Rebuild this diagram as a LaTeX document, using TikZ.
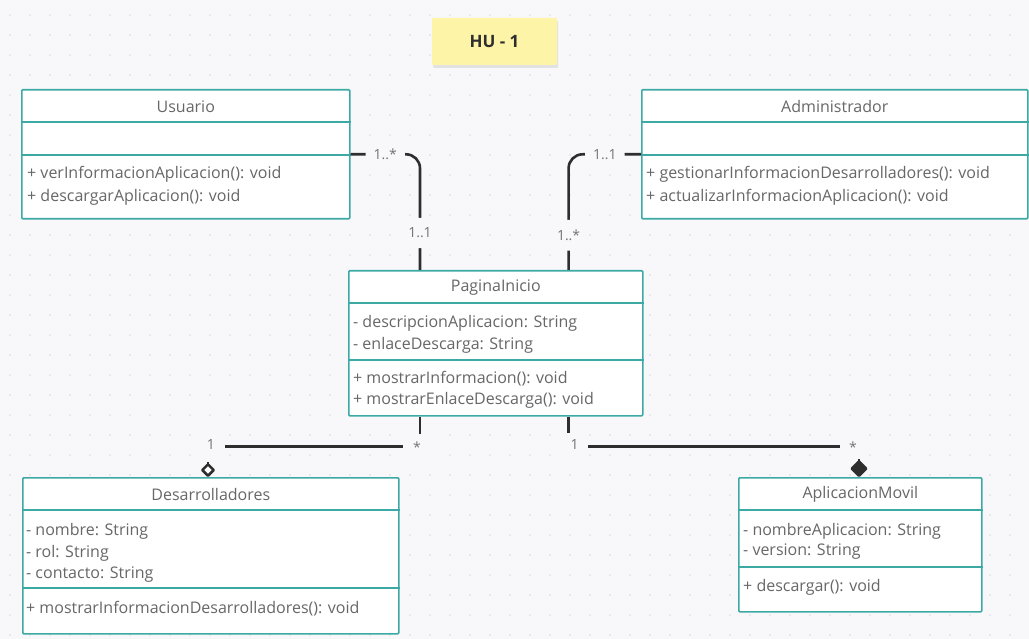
\documentclass[tikz,border=0pt]{standalone}
\usepackage{fontspec}
\setmainfont{Open Sans}
\usetikzlibrary{positioning, calc, arrows.meta, shadows}

\definecolor{bgpaper}{HTML}{F8F8FA}
\definecolor{griddot}{HTML}{DADAE0}
\definecolor{classline}{HTML}{3DA9A4}
\definecolor{classtext}{HTML}{676767}
\definecolor{multtext}{HTML}{737373}
\definecolor{linkline}{HTML}{2E2E2E}
\definecolor{notefill}{HTML}{FDF4A8}

\tikzset{
  classbox/.style={draw=classline, line width=1.6pt, fill=white, rounded corners=1pt,
    anchor=north west, inner sep=0pt},
  classsep/.style={draw=classline, line width=1.6pt},
  classname/.style={text=classtext, font=\fontsize{16}{19}\selectfont, inner sep=0pt},
  member/.style={text=classtext, font=\fontsize{16}{19}\selectfont, anchor=west, inner sep=0pt},
  assoc/.style={draw=linkline, line width=2.6pt, rounded corners=14pt},
  mult/.style={fill=bgpaper, text=multtext, font=\fontsize{14}{16}\selectfont,
    inner xsep=8pt, inner ysep=10pt},
  multend/.style={fill=bgpaper, text=multtext, font=\fontsize{14}{16}\selectfont,
    inner sep=0pt, anchor=base},
  note/.style={fill=notefill, text=linkline, font=\bfseries\fontsize{17}{20}\selectfont,
    minimum width=125pt, minimum height=47pt, rounded corners=1pt,
    drop shadow={shadow xshift=1pt, shadow yshift=-3pt, opacity=0.18}},
}

\begin{document}
\begin{tikzpicture}[x=1pt, y=-1pt]
    % Paper and dot grid
    \fill[bgpaper] (0,0) rectangle (1029,639);
    \useasboundingbox (0,0) rectangle (1029,639);
    \foreach \x in {10,30,...,1020}
    {
        \foreach \y in {15,35,...,635}
        {
            \fill[griddot] (\x,\y) circle (0.8pt);
        }
    }

    % Story tag
    \node[note] (hu) at (494.5,41.5) {HU - 1};

    % Usuario
    \node[classbox, minimum width=328pt, minimum height=129pt] (usuario) at (21,89) {};
    \node[classname] (usuario-t) at ($(usuario.north)+(0,17.5)$) {Usuario};
    \draw[classsep] ($(usuario.north west)+(0,33)$) -- ($(usuario.north east)+(0,33)$);
    \draw[classsep] ($(usuario.north west)+(0,66)$) -- ($(usuario.north east)+(0,66)$);
    \foreach \t [count=\i] in {+ verInformacionAplicacion(): void, + descargarAplicacion(): void}
        \node[member] (usuario-m\i) at ($(usuario.north west)+(6,62+23*\i)$) {\t};

    % Administrador
    \node[classbox, minimum width=386pt, minimum height=129pt] (admin) at (641,89) {};
    \node[classname] (admin-t) at ($(admin.north)+(0,17.5)$) {Administrador};
    \draw[classsep] ($(admin.north west)+(0,33)$) -- ($(admin.north east)+(0,33)$);
    \draw[classsep] ($(admin.north west)+(0,66)$) -- ($(admin.north east)+(0,66)$);
    \foreach \t [count=\i] in {+ gestionarInformacionDesarrolladores(): void, + actualizarInformacionAplicacion(): void}
        \node[member] (admin-m\i) at ($(admin.north west)+(5,62+23*\i)$) {\t};

    % PaginaInicio
    \node[classbox, minimum width=294pt, minimum height=145pt] (pagina) at (348,270) {};
    \node[classname] (pagina-t) at ($(pagina.north)+(0,17.5)$) {PaginaInicio};
    \draw[classsep] ($(pagina.north west)+(0,33)$) -- ($(pagina.north east)+(0,33)$);
    \draw[classsep] ($(pagina.north west)+(0,90)$) -- ($(pagina.north east)+(0,90)$);
    \foreach \t [count=\i] in {- descripcionAplicacion: String, - enlaceDescarga: String}
        \node[member] (pagina-a\i) at ($(pagina.north west)+(5,31+22*\i)$) {\t};
    \foreach \t [count=\i] in {+ mostrarInformacion(): void, + mostrarEnlaceDescarga(): void}
        \node[member] (pagina-m\i) at ($(pagina.north west)+(5,88+21*\i)$) {\t};

    % Desarrolladores
    \node[classbox, minimum width=376pt, minimum height=156pt] (desarrolladores) at (22,477) {};
    \node[classname] (desarrolladores-t) at ($(desarrolladores.north)+(0,17.5)$) {Desarrolladores};
    \draw[classsep] ($(desarrolladores.north west)+(0,33)$) -- ($(desarrolladores.north east)+(0,33)$);
    \draw[classsep] ($(desarrolladores.north west)+(0,111)$) -- ($(desarrolladores.north east)+(0,111)$);
    \foreach \t [count=\i] in {- nombre: String, - rol: String, - contacto: String}
        \node[member] (desarrolladores-a\i) at ($(desarrolladores.north west)+(4,32+22*\i)$) {\t};
    \node[member] (desarrolladores-m1) at ($(desarrolladores.north west)+(4,132)$)
        {+ mostrarInformacionDesarrolladores(): void};

    % AplicacionMovil
    \node[classbox, minimum width=243pt, minimum height=134pt] (movil) at (738,477) {};
    \node[classname] (movil-t) at ($(movil.north)+(0,17.5)$) {AplicacionMovil};
    \draw[classsep] ($(movil.north west)+(0,33)$) -- ($(movil.north east)+(0,33)$);
    \draw[classsep] ($(movil.north west)+(0,90)$) -- ($(movil.north east)+(0,90)$);
    \foreach \t [count=\i] in {- nombreAplicacion: String, - version: String}
        \node[member] (movil-a\i) at ($(movil.north west)+(5,33+21*\i)$) {\t};
    \node[member] (movil-m1) at ($(movil.north west)+(5,110)$) {+ descargar(): void};

    % Associations
    \coordinate (pagina-nl) at ($(pagina.north west)+(72,0)$);
    \coordinate (pagina-nr) at ($(pagina.north east)+(-75,0)$);
    \coordinate (pagina-sl) at ($(pagina.south west)+(72,0)$);
    \coordinate (pagina-sr) at ($(pagina.south east)+(-75,0)$);
    \coordinate (desarrolladores-in) at ($(desarrolladores.north west)+(186,0)$);
    \coordinate (movil-in) at ($(movil.north west)+(121,0)$);

    \draw[assoc] (usuario.east) -| (pagina-nl)
        node[mult, pos=0.25] {1..*}
        node[mult, pos=0.84] {1..1};
    \draw[assoc] (admin.west) -| (pagina-nr)
        node[mult, pos=0.25] {1..1}
        node[mult, pos=0.85] {1..*};
    \draw[assoc, rounded corners=0pt,
          -{Diamond[open, fill=white, length=15pt, width=15pt, line width=2.5pt, round]}]
        (pagina-sl) -- ++(0,30)
        node[multend, minimum width=28pt, text height=19pt, text depth=3pt, xshift=-3pt, yshift=-6pt] {*}
        -| (desarrolladores-in)
        node[multend, pos=0.5, minimum width=28pt, text height=16pt, text depth=12pt, xshift=3pt, yshift=-3pt] {1};
    \draw[assoc, rounded corners=0pt, -{Diamond[length=18pt, width=18pt, round]}]
        (pagina-sr) -- ++(0,30)
        node[multend, minimum width=26pt, text height=17pt, text depth=7pt, xshift=6pt, yshift=-3pt] {1}
        -| (movil-in)
        node[multend, pos=0.5, minimum width=26pt, text height=19pt, text depth=6pt, xshift=-6pt, yshift=-6pt] {*};
\end{tikzpicture}
\end{document}
